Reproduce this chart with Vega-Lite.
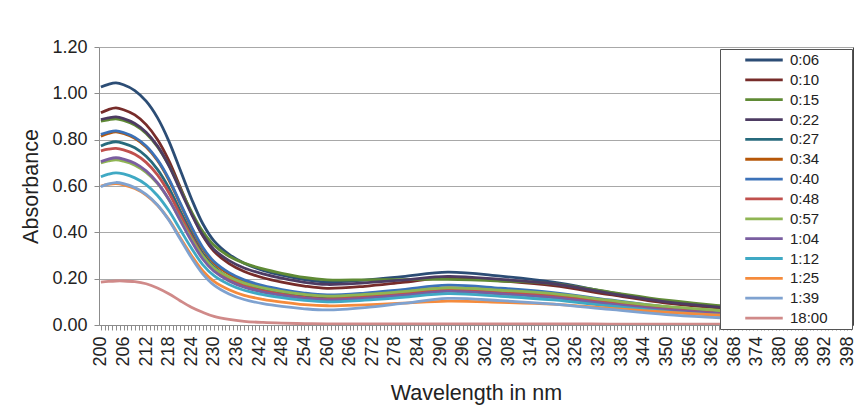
{
  "$schema": "https://vega.github.io/schema/vega-lite/v6.json",
  "width": 754,
  "height": 278,
  "autosize": {"type": "none"},
  "padding": {"left": 99, "top": 47, "right": 14, "bottom": 91},
  "background": "white",
  "config": {
    "font": "Liberation Sans",
    "view": {"stroke": null},
    "axis": {"labelColor": "#222", "titleColor": "#222", "labelFontSize": 18, "titleFontSize": 21.5, "titleFontWeight": "normal", "domainColor": "#8c8c8c", "tickColor": "#8c8c8c", "gridColor": "#a8a8a8"}
  },
  "data": {"values": [
{"t":"0:06","w":200,"a":1.027},{"t":"0:06","w":202,"a":1.039},{"t":"0:06","w":204,"a":1.045},{"t":"0:06","w":206,"a":1.037},{"t":"0:06","w":209,"a":1.012},{"t":"0:06","w":212,"a":0.966},{"t":"0:06","w":215,"a":0.895},{"t":"0:06","w":218,"a":0.795},{"t":"0:06","w":221,"a":0.671},{"t":"0:06","w":224,"a":0.546},{"t":"0:06","w":227,"a":0.438},{"t":"0:06","w":230,"a":0.363},{"t":"0:06","w":234,"a":0.305},{"t":"0:06","w":238,"a":0.267},{"t":"0:06","w":243,"a":0.236},{"t":"0:06","w":248,"a":0.215},{"t":"0:06","w":254,"a":0.196},{"t":"0:06","w":260,"a":0.185},{"t":"0:06","w":270,"a":0.194},{"t":"0:06","w":280,"a":0.209},{"t":"0:06","w":292,"a":0.228},{"t":"0:06","w":306,"a":0.211},{"t":"0:06","w":320,"a":0.185},{"t":"0:06","w":335,"a":0.141},{"t":"0:06","w":350,"a":0.100},{"t":"0:06","w":365,"a":0.074},{"t":"0:06","w":380,"a":0.050},{"t":"0:06","w":399,"a":0.025},
{"t":"0:10","w":200,"a":0.916},{"t":"0:10","w":202,"a":0.930},{"t":"0:10","w":204,"a":0.937},{"t":"0:10","w":206,"a":0.929},{"t":"0:10","w":209,"a":0.907},{"t":"0:10","w":212,"a":0.865},{"t":"0:10","w":215,"a":0.801},{"t":"0:10","w":218,"a":0.711},{"t":"0:10","w":221,"a":0.597},{"t":"0:10","w":224,"a":0.484},{"t":"0:10","w":227,"a":0.386},{"t":"0:10","w":230,"a":0.318},{"t":"0:10","w":234,"a":0.265},{"t":"0:10","w":238,"a":0.231},{"t":"0:10","w":243,"a":0.204},{"t":"0:10","w":248,"a":0.185},{"t":"0:10","w":254,"a":0.168},{"t":"0:10","w":260,"a":0.158},{"t":"0:10","w":270,"a":0.167},{"t":"0:10","w":280,"a":0.184},{"t":"0:10","w":292,"a":0.205},{"t":"0:10","w":306,"a":0.191},{"t":"0:10","w":320,"a":0.170},{"t":"0:10","w":335,"a":0.131},{"t":"0:10","w":350,"a":0.095},{"t":"0:10","w":365,"a":0.071},{"t":"0:10","w":380,"a":0.048},{"t":"0:10","w":399,"a":0.023},
{"t":"0:15","w":200,"a":0.880},{"t":"0:15","w":202,"a":0.886},{"t":"0:15","w":204,"a":0.890},{"t":"0:15","w":206,"a":0.883},{"t":"0:15","w":209,"a":0.863},{"t":"0:15","w":212,"a":0.827},{"t":"0:15","w":215,"a":0.770},{"t":"0:15","w":218,"a":0.690},{"t":"0:15","w":221,"a":0.590},{"t":"0:15","w":224,"a":0.490},{"t":"0:15","w":227,"a":0.404},{"t":"0:15","w":230,"a":0.344},{"t":"0:15","w":234,"a":0.297},{"t":"0:15","w":238,"a":0.267},{"t":"0:15","w":243,"a":0.242},{"t":"0:15","w":248,"a":0.223},{"t":"0:15","w":254,"a":0.205},{"t":"0:15","w":260,"a":0.195},{"t":"0:15","w":270,"a":0.195},{"t":"0:15","w":280,"a":0.196},{"t":"0:15","w":292,"a":0.197},{"t":"0:15","w":306,"a":0.190},{"t":"0:15","w":320,"a":0.178},{"t":"0:15","w":335,"a":0.142},{"t":"0:15","w":350,"a":0.107},{"t":"0:15","w":365,"a":0.082},{"t":"0:15","w":380,"a":0.058},{"t":"0:15","w":399,"a":0.028},
{"t":"0:22","w":200,"a":0.887},{"t":"0:22","w":202,"a":0.894},{"t":"0:22","w":204,"a":0.898},{"t":"0:22","w":206,"a":0.891},{"t":"0:22","w":209,"a":0.870},{"t":"0:22","w":212,"a":0.832},{"t":"0:22","w":215,"a":0.773},{"t":"0:22","w":218,"a":0.689},{"t":"0:22","w":221,"a":0.584},{"t":"0:22","w":224,"a":0.480},{"t":"0:22","w":227,"a":0.389},{"t":"0:22","w":230,"a":0.326},{"t":"0:22","w":234,"a":0.278},{"t":"0:22","w":238,"a":0.246},{"t":"0:22","w":243,"a":0.221},{"t":"0:22","w":248,"a":0.202},{"t":"0:22","w":254,"a":0.184},{"t":"0:22","w":260,"a":0.175},{"t":"0:22","w":270,"a":0.182},{"t":"0:22","w":280,"a":0.194},{"t":"0:22","w":292,"a":0.210},{"t":"0:22","w":306,"a":0.197},{"t":"0:22","w":320,"a":0.178},{"t":"0:22","w":335,"a":0.137},{"t":"0:22","w":350,"a":0.100},{"t":"0:22","w":365,"a":0.075},{"t":"0:22","w":380,"a":0.052},{"t":"0:22","w":399,"a":0.026},
{"t":"0:27","w":200,"a":0.773},{"t":"0:27","w":202,"a":0.785},{"t":"0:27","w":204,"a":0.791},{"t":"0:27","w":206,"a":0.784},{"t":"0:27","w":209,"a":0.765},{"t":"0:27","w":212,"a":0.728},{"t":"0:27","w":215,"a":0.672},{"t":"0:27","w":218,"a":0.593},{"t":"0:27","w":221,"a":0.494},{"t":"0:27","w":224,"a":0.396},{"t":"0:27","w":227,"a":0.310},{"t":"0:27","w":230,"a":0.251},{"t":"0:27","w":234,"a":0.204},{"t":"0:27","w":238,"a":0.175},{"t":"0:27","w":243,"a":0.152},{"t":"0:27","w":248,"a":0.136},{"t":"0:27","w":254,"a":0.122},{"t":"0:27","w":260,"a":0.115},{"t":"0:27","w":270,"a":0.122},{"t":"0:27","w":280,"a":0.134},{"t":"0:27","w":292,"a":0.150},{"t":"0:27","w":306,"a":0.138},{"t":"0:27","w":320,"a":0.120},{"t":"0:27","w":335,"a":0.091},{"t":"0:27","w":350,"a":0.065},{"t":"0:27","w":365,"a":0.047},{"t":"0:27","w":380,"a":0.030},{"t":"0:27","w":399,"a":0.014},
{"t":"0:34","w":200,"a":0.815},{"t":"0:34","w":202,"a":0.827},{"t":"0:34","w":204,"a":0.834},{"t":"0:34","w":206,"a":0.827},{"t":"0:34","w":209,"a":0.806},{"t":"0:34","w":212,"a":0.768},{"t":"0:34","w":215,"a":0.710},{"t":"0:34","w":218,"a":0.627},{"t":"0:34","w":221,"a":0.524},{"t":"0:34","w":224,"a":0.420},{"t":"0:34","w":227,"a":0.330},{"t":"0:34","w":230,"a":0.268},{"t":"0:34","w":234,"a":0.220},{"t":"0:34","w":238,"a":0.189},{"t":"0:34","w":243,"a":0.164},{"t":"0:34","w":248,"a":0.148},{"t":"0:34","w":254,"a":0.133},{"t":"0:34","w":260,"a":0.125},{"t":"0:34","w":270,"a":0.132},{"t":"0:34","w":280,"a":0.144},{"t":"0:34","w":292,"a":0.160},{"t":"0:34","w":306,"a":0.148},{"t":"0:34","w":320,"a":0.130},{"t":"0:34","w":335,"a":0.101},{"t":"0:34","w":350,"a":0.075},{"t":"0:34","w":365,"a":0.057},{"t":"0:34","w":380,"a":0.040},{"t":"0:34","w":399,"a":0.020},
{"t":"0:40","w":200,"a":0.823},{"t":"0:40","w":202,"a":0.833},{"t":"0:40","w":204,"a":0.838},{"t":"0:40","w":206,"a":0.831},{"t":"0:40","w":209,"a":0.810},{"t":"0:40","w":212,"a":0.773},{"t":"0:40","w":215,"a":0.714},{"t":"0:40","w":218,"a":0.632},{"t":"0:40","w":221,"a":0.528},{"t":"0:40","w":224,"a":0.425},{"t":"0:40","w":227,"a":0.336},{"t":"0:40","w":230,"a":0.274},{"t":"0:40","w":234,"a":0.226},{"t":"0:40","w":238,"a":0.195},{"t":"0:40","w":243,"a":0.170},{"t":"0:40","w":248,"a":0.153},{"t":"0:40","w":254,"a":0.138},{"t":"0:40","w":260,"a":0.130},{"t":"0:40","w":270,"a":0.138},{"t":"0:40","w":280,"a":0.153},{"t":"0:40","w":292,"a":0.172},{"t":"0:40","w":306,"a":0.159},{"t":"0:40","w":320,"a":0.140},{"t":"0:40","w":335,"a":0.108},{"t":"0:40","w":350,"a":0.078},{"t":"0:40","w":365,"a":0.057},{"t":"0:40","w":380,"a":0.038},{"t":"0:40","w":399,"a":0.018},
{"t":"0:48","w":200,"a":0.752},{"t":"0:48","w":202,"a":0.759},{"t":"0:48","w":204,"a":0.762},{"t":"0:48","w":206,"a":0.756},{"t":"0:48","w":209,"a":0.737},{"t":"0:48","w":212,"a":0.702},{"t":"0:48","w":215,"a":0.648},{"t":"0:48","w":218,"a":0.572},{"t":"0:48","w":221,"a":0.477},{"t":"0:48","w":224,"a":0.382},{"t":"0:48","w":227,"a":0.300},{"t":"0:48","w":230,"a":0.243},{"t":"0:48","w":234,"a":0.199},{"t":"0:48","w":238,"a":0.170},{"t":"0:48","w":243,"a":0.147},{"t":"0:48","w":248,"a":0.133},{"t":"0:48","w":254,"a":0.119},{"t":"0:48","w":260,"a":0.112},{"t":"0:48","w":270,"a":0.121},{"t":"0:48","w":280,"a":0.136},{"t":"0:48","w":292,"a":0.155},{"t":"0:48","w":306,"a":0.143},{"t":"0:48","w":320,"a":0.125},{"t":"0:48","w":335,"a":0.095},{"t":"0:48","w":350,"a":0.068},{"t":"0:48","w":365,"a":0.050},{"t":"0:48","w":380,"a":0.033},{"t":"0:48","w":399,"a":0.015},
{"t":"0:57","w":200,"a":0.700},{"t":"0:57","w":202,"a":0.708},{"t":"0:57","w":204,"a":0.713},{"t":"0:57","w":206,"a":0.707},{"t":"0:57","w":209,"a":0.690},{"t":"0:57","w":212,"a":0.659},{"t":"0:57","w":215,"a":0.611},{"t":"0:57","w":218,"a":0.542},{"t":"0:57","w":221,"a":0.457},{"t":"0:57","w":224,"a":0.372},{"t":"0:57","w":227,"a":0.298},{"t":"0:57","w":230,"a":0.246},{"t":"0:57","w":234,"a":0.207},{"t":"0:57","w":238,"a":0.181},{"t":"0:57","w":243,"a":0.160},{"t":"0:57","w":248,"a":0.145},{"t":"0:57","w":254,"a":0.132},{"t":"0:57","w":260,"a":0.125},{"t":"0:57","w":270,"a":0.132},{"t":"0:57","w":280,"a":0.144},{"t":"0:57","w":292,"a":0.160},{"t":"0:57","w":306,"a":0.150},{"t":"0:57","w":320,"a":0.135},{"t":"0:57","w":335,"a":0.106},{"t":"0:57","w":350,"a":0.080},{"t":"0:57","w":365,"a":0.062},{"t":"0:57","w":380,"a":0.045},{"t":"0:57","w":399,"a":0.022},
{"t":"1:04","w":200,"a":0.705},{"t":"1:04","w":202,"a":0.716},{"t":"1:04","w":204,"a":0.722},{"t":"1:04","w":206,"a":0.716},{"t":"1:04","w":209,"a":0.698},{"t":"1:04","w":212,"a":0.665},{"t":"1:04","w":215,"a":0.614},{"t":"1:04","w":218,"a":0.543},{"t":"1:04","w":221,"a":0.453},{"t":"1:04","w":224,"a":0.363},{"t":"1:04","w":227,"a":0.285},{"t":"1:04","w":230,"a":0.232},{"t":"1:04","w":234,"a":0.190},{"t":"1:04","w":238,"a":0.163},{"t":"1:04","w":243,"a":0.142},{"t":"1:04","w":248,"a":0.128},{"t":"1:04","w":254,"a":0.115},{"t":"1:04","w":260,"a":0.108},{"t":"1:04","w":270,"a":0.115},{"t":"1:04","w":280,"a":0.128},{"t":"1:04","w":292,"a":0.145},{"t":"1:04","w":306,"a":0.134},{"t":"1:04","w":320,"a":0.118},{"t":"1:04","w":335,"a":0.090},{"t":"1:04","w":350,"a":0.065},{"t":"1:04","w":365,"a":0.048},{"t":"1:04","w":380,"a":0.032},{"t":"1:04","w":399,"a":0.015},
{"t":"1:12","w":200,"a":0.640},{"t":"1:12","w":202,"a":0.651},{"t":"1:12","w":204,"a":0.657},{"t":"1:12","w":206,"a":0.652},{"t":"1:12","w":209,"a":0.635},{"t":"1:12","w":212,"a":0.606},{"t":"1:12","w":215,"a":0.559},{"t":"1:12","w":218,"a":0.494},{"t":"1:12","w":221,"a":0.413},{"t":"1:12","w":224,"a":0.332},{"t":"1:12","w":227,"a":0.261},{"t":"1:12","w":230,"a":0.213},{"t":"1:12","w":234,"a":0.175},{"t":"1:12","w":238,"a":0.150},{"t":"1:12","w":243,"a":0.131},{"t":"1:12","w":248,"a":0.118},{"t":"1:12","w":254,"a":0.106},{"t":"1:12","w":260,"a":0.100},{"t":"1:12","w":270,"a":0.107},{"t":"1:12","w":280,"a":0.119},{"t":"1:12","w":292,"a":0.135},{"t":"1:12","w":306,"a":0.124},{"t":"1:12","w":320,"a":0.108},{"t":"1:12","w":335,"a":0.082},{"t":"1:12","w":350,"a":0.058},{"t":"1:12","w":365,"a":0.041},{"t":"1:12","w":380,"a":0.026},{"t":"1:12","w":399,"a":0.012},
{"t":"1:25","w":200,"a":0.600},{"t":"1:25","w":202,"a":0.607},{"t":"1:25","w":204,"a":0.610},{"t":"1:25","w":206,"a":0.605},{"t":"1:25","w":209,"a":0.589},{"t":"1:25","w":212,"a":0.561},{"t":"1:25","w":215,"a":0.517},{"t":"1:25","w":218,"a":0.456},{"t":"1:25","w":221,"a":0.378},{"t":"1:25","w":224,"a":0.301},{"t":"1:25","w":227,"a":0.234},{"t":"1:25","w":230,"a":0.188},{"t":"1:25","w":234,"a":0.152},{"t":"1:25","w":238,"a":0.128},{"t":"1:25","w":243,"a":0.111},{"t":"1:25","w":248,"a":0.099},{"t":"1:25","w":254,"a":0.088},{"t":"1:25","w":260,"a":0.083},{"t":"1:25","w":270,"a":0.087},{"t":"1:25","w":280,"a":0.094},{"t":"1:25","w":292,"a":0.103},{"t":"1:25","w":306,"a":0.098},{"t":"1:25","w":320,"a":0.090},{"t":"1:25","w":335,"a":0.072},{"t":"1:25","w":350,"a":0.055},{"t":"1:25","w":365,"a":0.042},{"t":"1:25","w":380,"a":0.030},{"t":"1:25","w":399,"a":0.016},
{"t":"1:39","w":200,"a":0.597},{"t":"1:39","w":202,"a":0.609},{"t":"1:39","w":204,"a":0.615},{"t":"1:39","w":206,"a":0.610},{"t":"1:39","w":209,"a":0.593},{"t":"1:39","w":212,"a":0.564},{"t":"1:39","w":215,"a":0.518},{"t":"1:39","w":218,"a":0.453},{"t":"1:39","w":221,"a":0.372},{"t":"1:39","w":224,"a":0.291},{"t":"1:39","w":227,"a":0.221},{"t":"1:39","w":230,"a":0.172},{"t":"1:39","w":234,"a":0.134},{"t":"1:39","w":238,"a":0.110},{"t":"1:39","w":243,"a":0.092},{"t":"1:39","w":248,"a":0.080},{"t":"1:39","w":254,"a":0.070},{"t":"1:39","w":260,"a":0.065},{"t":"1:39","w":270,"a":0.075},{"t":"1:39","w":280,"a":0.093},{"t":"1:39","w":292,"a":0.115},{"t":"1:39","w":306,"a":0.105},{"t":"1:39","w":320,"a":0.090},{"t":"1:39","w":335,"a":0.067},{"t":"1:39","w":350,"a":0.045},{"t":"1:39","w":365,"a":0.030},{"t":"1:39","w":380,"a":0.016},{"t":"1:39","w":399,"a":0.008},
{"t":"18:00","w":200,"a":0.185},{"t":"18:00","w":202,"a":0.188},{"t":"18:00","w":204,"a":0.190},{"t":"18:00","w":206,"a":0.190},{"t":"18:00","w":209,"a":0.187},{"t":"18:00","w":212,"a":0.178},{"t":"18:00","w":215,"a":0.160},{"t":"18:00","w":218,"a":0.135},{"t":"18:00","w":221,"a":0.105},{"t":"18:00","w":224,"a":0.077},{"t":"18:00","w":227,"a":0.055},{"t":"18:00","w":230,"a":0.037},{"t":"18:00","w":234,"a":0.024},{"t":"18:00","w":238,"a":0.016},{"t":"18:00","w":243,"a":0.011},{"t":"18:00","w":248,"a":0.008},{"t":"18:00","w":254,"a":0.006},{"t":"18:00","w":260,"a":0.005},{"t":"18:00","w":270,"a":0.005},{"t":"18:00","w":280,"a":0.005},{"t":"18:00","w":292,"a":0.005},{"t":"18:00","w":306,"a":0.005},{"t":"18:00","w":320,"a":0.005},{"t":"18:00","w":335,"a":0.004},{"t":"18:00","w":350,"a":0.004},{"t":"18:00","w":365,"a":0.004},{"t":"18:00","w":380,"a":0.004},{"t":"18:00","w":399,"a":0.004}
  ]},
  "layer": [
    {
      "mark": {"type": "line", "interpolate": "catmull-rom", "strokeWidth": 2.8, "clip": true},
      "encoding": {
        "x": {"field": "w", "type": "quantitative", "scale": {"domain": [199.5, 399.5], "nice": false, "zero": false},
          "axis": {"title": "Wavelength in nm", "titlePadding": 16, "labelAngle": 270, "labelPadding": 6, "tickSize": 5, "grid": false, "labelOverlap": false, "labelFlush": false,
            "values": [200,201,202,203,204,205,206,207,208,209,210,211,212,213,214,215,216,217,218,219,220,221,222,223,224,225,226,227,228,229,230,231,232,233,234,235,236,237,238,239,240,241,242,243,244,245,246,247,248,249,250,251,252,253,254,255,256,257,258,259,260,261,262,263,264,265,266,267,268,269,270,271,272,273,274,275,276,277,278,279,280,281,282,283,284,285,286,287,288,289,290,291,292,293,294,295,296,297,298,299,300,301,302,303,304,305,306,307,308,309,310,311,312,313,314,315,316,317,318,319,320,321,322,323,324,325,326,327,328,329,330,331,332,333,334,335,336,337,338,339,340,341,342,343,344,345,346,347,348,349,350,351,352,353,354,355,356,357,358,359,360,361,362,363,364,365,366,367,368,369,370,371,372,373,374,375,376,377,378,379,380,381,382,383,384,385,386,387,388,389,390,391,392,393,394,395,396,397,398,399],
            "labelExpr": "(datum.value - 200) % 6 === 0 ? datum.label : ''"}},
        "y": {"field": "a", "type": "quantitative", "scale": {"domain": [0, 1.2], "nice": false},
          "axis": {"title": "Absorbance", "titlePadding": 9, "values": [0, 0.2, 0.4, 0.6, 0.8, 1.0, 1.2], "format": ".2f", "tickSize": 5, "labelPadding": 7, "grid": true}},
        "color": {"field": "t", "type": "nominal",
          "scale": {"domain": ["0:06","0:10","0:15","0:22","0:27","0:34","0:40","0:48","0:57","1:04","1:12","1:25","1:39","18:00"],
                    "range": ["#2c4d75","#772c2a","#5f8a35","#4d3b62","#276a7c","#b65708","#3c72b8","#c0504d","#8fb553","#7a5ea0","#3fa9c4","#f58b3c","#7fa2d0","#d08a89"]},
          "legend": {"orient": "none", "legendX": 621, "legendY": 2, "title": " ", "titleOrient": "right", "titlePadding": 22, "titleFontSize": 1,
                     "padding": 2, "symbolOffset": 33, "symbolType": "M-2.5,0H2.5", "symbolSize": 225, "symbolStrokeWidth": 2.8,
                     "labelFontSize": 15, "labelOffset": 17, "rowPadding": 2.85, "strokeColor": "#555", "fillColor": "white", "labelColor": "#222"}}
      }
    },
    {
      "transform": [{"filter": "false"}],
      "mark": {"type": "rule"},
      "encoding": {
        "y": {"field": "a", "type": "quantitative", "scale": {"domain": [0, 1.2], "nice": false},
          "axis": {"orient": "right", "labels": false, "ticks": false, "grid": false, "title": null, "domainColor": "#444"}}
      }
    }
  ],
  "resolve": {"axis": {"y": "independent"}}
}
